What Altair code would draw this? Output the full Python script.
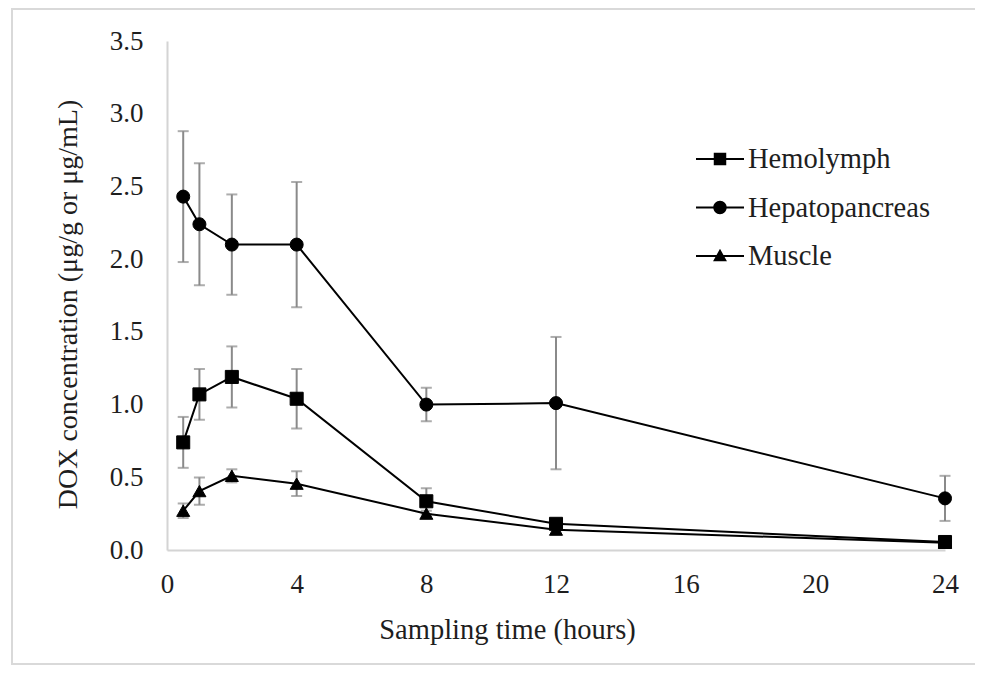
import altair as alt
import pandas as pd

# ---- data ----
time_h = [0.5, 1, 2, 4, 8, 12, 24]
hemolymph = [0.74, 1.07, 1.19, 1.04, 0.335, 0.18, 0.055]
hemolymph_sd = [0.175, 0.175, 0.21, 0.205, 0.09, 0.02, 0.01]
hepatopancreas = [2.43, 2.24, 2.10, 2.10, 1.00, 1.01, 0.355]
hepatopancreas_sd = [0.45, 0.42, 0.345, 0.43, 0.115, 0.455, 0.155]
muscle = [0.27, 0.405, 0.51, 0.456, 0.25, 0.14, 0.05]
muscle_sd = [0.05, 0.094, 0.045, 0.085, 0.02, 0.02, 0.01]

series_names = ["Hemolymph", "Hepatopancreas", "Muscle"]
x_ticks = [0, 4, 8, 12, 16, 20, 24]
y_ticks = [0, 0.5, 1.0, 1.5, 2.0, 2.5, 3.0, 3.5]

rows = []
for name, vals, sds in [
    ("Hemolymph", hemolymph, hemolymph_sd),
    ("Hepatopancreas", hepatopancreas, hepatopancreas_sd),
    ("Muscle", muscle, muscle_sd),
]:
    for t, v, s in zip(time_h, vals, sds):
        rows.append({"series": name, "time": t, "value": v, "lo": v - s, "hi": v + s})
df = pd.DataFrame(rows)

FONT = "Liberation Serif"
TXT = "#1e1e1e"
ERR = "#8a8a8a"
AXIS_LINE = "#d4d4d4"

x_axis = alt.Axis(values=x_ticks, ticks=False, grid=False, domainColor=AXIS_LINE, domainWidth=2,
                  labelFont=FONT, labelFontSize=27, labelColor=TXT, labelPadding=21,
                  labelFlush=False,
                  title="Sampling time (hours)", titleFont=FONT, titleFontSize=28.5,
                  titleFontWeight="normal", titleColor=TXT, titleX=340, titleY=65,
                  titleAnchor="start", titleAlign="center")
y_axis = alt.Axis(values=y_ticks, format=".1f", ticks=False, grid=False, domainColor=AXIS_LINE,
                  domainWidth=2, labelFont=FONT, labelFontSize=27, labelColor=TXT, labelPadding=24,
                  title="DOX concentration (μg/g or μg/mL)", titleFont=FONT, titleFontSize=28,
                  titleFontWeight="normal", titleColor=TXT, titleX=-99, titleY=263,
                  titleAngle=270, titleBaseline="middle", titleAlign="center")

x_scale = alt.Scale(domain=[0, 24], nice=False, zero=False)
y_scale = alt.Scale(domain=[0, 3.5], nice=False)

X = alt.X("time:Q", scale=x_scale, axis=x_axis)

base = alt.Chart(df)

err_rules = base.mark_rule(color=ERR, strokeWidth=2).encode(
    x=X,
    y=alt.Y("lo:Q", scale=y_scale, axis=y_axis),
    y2="hi:Q",
)
err_caps = base.transform_fold(["lo", "hi"], as_=["end", "val"]).mark_tick(
    orient="horizontal", size=11, thickness=2, color=ERR
).encode(x=X, y=alt.Y("val:Q", scale=y_scale, axis=y_axis))

lines = base.mark_line(color="black", strokeWidth=2).encode(
    x=X, y=alt.Y("value:Q", scale=y_scale, axis=y_axis), detail="series:N"
)

points = base.mark_point(filled=True, size=170, opacity=1, fill="black", stroke="black",
                         strokeWidth=1).encode(
    x=X,
    y=alt.Y("value:Q", scale=y_scale, axis=y_axis),
    shape=alt.Shape("series:N", scale=alt.Scale(domain=series_names,
                                                range=["square", "circle", "triangle-up"]),
                    legend=None),
)

# legend glyphs: a short line with the marker on it (filled sub-paths, unit box [-1, 1])
legend_paths = [
    "M-1,-0.045H1V0.045H-1ZM-0.26,-0.26H0.26V0.26H-0.26Z",
    "M-1,-0.045H1V0.045H-1ZM0.28,0A0.28,0.28,0,1,1,-0.28,0A0.28,0.28,0,1,1,0.28,0Z",
    "M-1,-0.045H1V0.045H-1ZM0,-0.3L0.29,0.22H-0.29Z",
]
legend_layer = base.transform_filter("false").mark_point(
    filled=True, opacity=1, fill="black"
).encode(
    x=X,
    y=alt.Y("value:Q", scale=y_scale, axis=y_axis),
    shape=alt.Shape(
        "series:N",
        scale=alt.Scale(domain=series_names, range=legend_paths),
        legend=alt.Legend(title=None, orient="none", legendX=528, legendY=93,
                          symbolSize=2304, symbolFillColor="black", symbolOpacity=1,
                          labelFont=FONT, labelFontSize=28.5, labelColor=TXT, labelOffset=3,
                          labelLimit=400, rowPadding=8.5),
    ),
)

frame = alt.Chart(alt.Data(values=[{}])).mark_rect(
    fillOpacity=0, stroke="#d9d9d9", strokeWidth=2
).encode(x=alt.value(-155), x2=alt.value(812), y=alt.value(-32), y2=alt.value(623))

chart = alt.layer(frame, err_rules, err_caps, lines, points, legend_layer).resolve_scale(
    shape="independent"
).properties(
    width=778, height=509,
    autosize=alt.AutoSizeParams(type="none"),
    padding={"left": 159, "top": 33, "right": 30, "bottom": 115},
    background="white",
).configure_view(stroke=None)

chart.save("out.html", embed_options={"renderer": "svg", "actions": False})
